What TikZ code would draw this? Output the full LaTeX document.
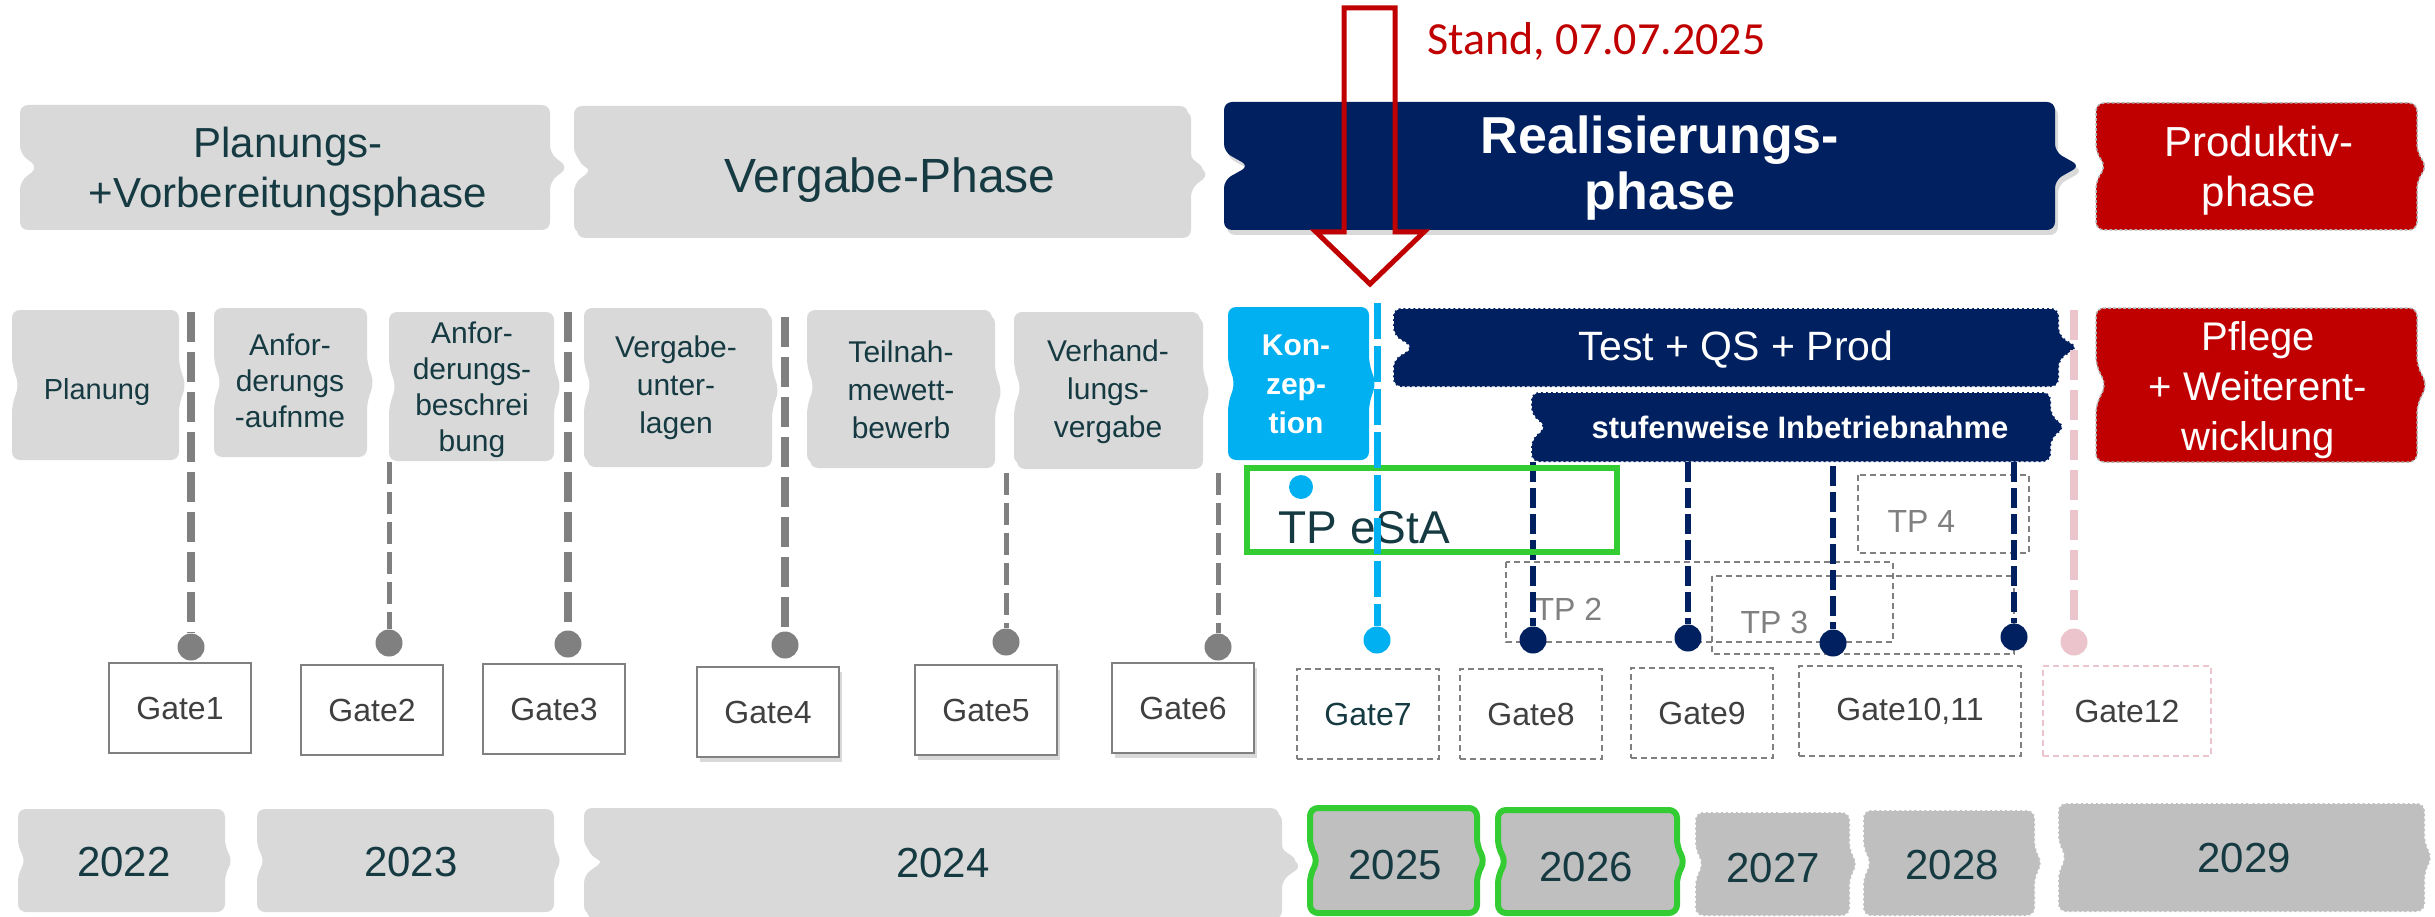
\documentclass[tikz,border=0pt]{standalone}
\usepackage{fontspec}
\setmainfont{Liberation Sans}
\newfontfamily\standfont{Carlito}
\usetikzlibrary{shadows}

\definecolor{navy}{RGB}{0,32,96}
\definecolor{skyblue}{RGB}{0,176,240}
\definecolor{darkred}{RGB}{192,0,0}
\definecolor{lgray}{RGB}{217,217,217}
\definecolor{mgray}{RGB}{191,191,191}
\definecolor{linegray}{RGB}{128,128,128}
\definecolor{tealtext}{RGB}{22,58,66}
\definecolor{gatetext}{RGB}{64,64,64}
\definecolor{lgreen}{RGB}{51,204,51}
\definecolor{rose}{RGB}{236,196,204}

% box with a notch on the left and a point on the right
% [options]{x1}{y1}{x2}{y2}{depth}{half height}
\newcommand{\stage}[7][]{%
  \path[#1] ({(#2+#4)/2},#3) -- (#4,#3) -- (#4,{(#3+#5)/2-#7}) -- ({#4+#6},{(#3+#5)/2})
    -- (#4,{(#3+#5)/2+#7}) -- (#4,#5) -- (#2,#5) -- (#2,{(#3+#5)/2+#7})
    -- ({#2+#6},{(#3+#5)/2}) -- (#2,{(#3+#5)/2-#7}) -- (#2,#3) -- cycle;}

\tikzset{
  stagebox/.style={rounded corners=8pt},
  shade/.style={drop shadow={shadow xshift=3pt,shadow yshift=-5pt,opacity=.3}},
  phasetxt/.style={align=center, text=tealtext, font=\fontsize{42}{50}\selectfont},
  steptxt/.style={align=center, text=tealtext, font=\fontsize{30}{36}\selectfont},
  yeartxt/.style={text=tealtext, font=\fontsize{42}{50}\selectfont},
  gatebox/.style={draw=linegray, line width=2pt, fill=white, minimum width=142pt,
    minimum height=90pt, inner sep=0pt, text=gatetext, font=\fontsize{32}{38}\selectfont},
  openbox/.style={gatebox, dash pattern=on 6pt off 4pt},
  gatedot/.style={circle, inner sep=0pt, minimum size=27pt},
  thickline/.style={draw=linegray, line width=8pt, dash pattern=on 30pt off 10pt},
  thinline/.style={draw=linegray, line width=5pt, dash pattern=on 22pt off 8pt},
  navyline/.style={draw=navy, line width=6pt, dash pattern=on 20pt off 6pt},
  tpbox/.style={draw=linegray, line width=2.5pt, dash pattern=on 6pt off 4pt},
  tptxt/.style={anchor=base west, text=linegray, font=\fontsize{32}{38}\selectfont}
}

\begin{document}
\begin{tikzpicture}[x=1pt,y=-1pt]
\useasboundingbox (0,0) rectangle (2435,917);

% Phasen
\stage[stagebox,fill=lgray]{20}{105}{550}{230}{18}{14}
\node[phasetxt] (plan) at (288,172) {Planungs-\\+Vorbereitungsphase};
\stage[stagebox,fill=lgray,shade]{574}{106}{1188}{233}{18}{14}
\node[phasetxt,font=\fontsize{48}{56}\selectfont] (vergabe) at (890,180) {Vergabe-Phase};
\stage[stagebox,fill=navy,shade]{1224}{102}{2055}{230}{25}{14}
\node[phasetxt,text=white,font=\fontsize{52}{56}\selectfont\bfseries] (real) at (1660,168) {Realisierungs-\\phase};
\stage[stagebox,fill=darkred,draw=gray!60,line width=1.5pt,dash pattern=on 3pt off 2pt]{2096}{103}{2417}{230}{10}{14}
\node[phasetxt,text=white] (prod) at (2259,171) {Produktiv-\\phase};

% Stand
\draw[darkred,line width=5pt] (1344,8) -- (1395,8) -- (1395,232) -- (1424,232) -- (1370,284)
  -- (1316,232) -- (1344,232) -- cycle;
\node[anchor=base west,text=darkred,font=\standfont\fontsize{46}{50}\selectfont] (stand) at (1424,55) {Stand, 07.07.2025};

% Schritte
\stage[stagebox,fill=lgray]{12}{310}{179}{460}{7}{20}
\node[steptxt,font=\fontsize{29}{36}\selectfont] (planung) at (97,392) {Planung};
\stage[stagebox,fill=lgray]{214}{308}{367}{457}{7}{20}
\node[steptxt] (anfauf) at (290,381) {Anfor-\\derungs\\-aufnme};
\stage[stagebox,fill=lgray]{389}{312}{554}{461}{7}{20}
\node[steptxt] (anfbes) at (472,390) {Anfor-\\derungs-\\beschrei\\bung};
\stage[stagebox,fill=lgray,shade]{584}{308}{769}{462}{7}{20}
\node[steptxt,font=\fontsize{30}{38}\selectfont] (vgunt) at (676,388) {Vergabe-\\unter-\\lagen};
\stage[stagebox,fill=lgray,shade]{807}{310}{992}{463}{7}{20}
\node[steptxt,font=\fontsize{30}{38}\selectfont] (teiln) at (901,390) {Teilnah-\\mewett-\\bewerb};
\stage[stagebox,fill=lgray,shade]{1014}{312}{1200}{464}{7}{20}
\node[steptxt,font=\fontsize{30}{38}\selectfont] (verh) at (1108,392) {Verhand-\\lungs-\\vergabe};
\stage[stagebox,fill=skyblue]{1228}{307}{1369}{460}{7}{20}
\node[steptxt,text=white,font=\fontsize{30}{39}\selectfont\bfseries] (konz) at (1296,384) {Kon-\\zep-\\tion};
\stage[stagebox,fill=navy,draw=white,line width=1.5pt,dash pattern=on 3pt off 2pt]{1393}{308}{2059}{387}{20}{12}
\node[text=white,font=\fontsize{41}{48}\selectfont] (test) at (1736,350) {Test + QS + Prod};
\stage[stagebox,fill=navy,draw=white,line width=1.5pt,dash pattern=on 3pt off 2pt]{1531}{392}{2051}{462}{15}{12}
\node[text=white,font=\fontsize{31}{36}\selectfont\bfseries] (stufe) at (1800,427) {stufenweise Inbetriebnahme};
\stage[stagebox,fill=darkred,draw=gray!60,line width=1.5pt,dash pattern=on 3pt off 2pt]{2096}{308}{2417}{462}{10}{20}
\node[phasetxt,text=white,font=\fontsize{40}{50}\selectfont] (pflege) at (2258,390) {Pflege\\+ Weiterent-\\wicklung};

% Gates
\node[gatebox] (gate1) at (180,708) {Gate1};
\node[gatebox] (gate2) at (372,710) {Gate2};
\node[gatebox] (gate3) at (554,709) {Gate3};
\node[gatebox,shade] (gate4) at (768,712) {Gate4};
\node[gatebox,shade] (gate5) at (986,710) {Gate5};
\node[gatebox,shade] (gate6) at (1183,708) {Gate6};
\node[openbox,text=tealtext] (gate7) at (1368,714) {Gate7};
\node[openbox] (gate8) at (1531,714) {Gate8};
\node[openbox] (gate9) at (1702,713) {Gate9};
\node[openbox,minimum width=222pt] (gate10) at (1910,711) {Gate10,11};
\node[openbox,draw=rose,minimum width=168pt] (gate12) at (2127,711) {Gate12};

% Teilprojekte
\draw[tpbox] (1858,475) rectangle (2029,553);
\node[tptxt] (tp4) at (1884,532) {TP 4};
\draw[tpbox] (1506,562) rectangle (1893,642);
\node[tptxt] (tp2) at (1531,620) {TP 2};
\draw[tpbox] (1712,576) rectangle (2014,654);
\node[tptxt] (tp3) at (1737,633) {TP 3};

% Meilensteine
\node[gatedot,fill=linegray] (d1) at (191,647) {};
\node[gatedot,fill=linegray] (d2) at (389,643) {};
\node[gatedot,fill=linegray] (d3) at (568,644) {};
\node[gatedot,fill=linegray] (d4) at (785,645) {};
\node[gatedot,fill=linegray] (d5) at (1006,642) {};
\node[gatedot,fill=linegray] (d6) at (1218,647) {};
\node[gatedot,fill=skyblue] (d7) at (1377,640) {};
\node[gatedot,fill=navy] (d8) at (1533,640) {};
\node[gatedot,fill=navy] (d9) at (1688,638) {};
\node[gatedot,fill=navy] (d10) at (1833,643) {};
\node[gatedot,fill=navy] (d11) at (2014,637) {};
\node[gatedot,fill=rose] (d12) at (2074,642) {};

\coordinate (t1) at (191,312);
\coordinate (t2) at (389,462);
\coordinate (t3) at (568,312);
\coordinate (t4) at (785,317);
\coordinate (t5) at (1006,473);
\coordinate (t6) at (1218,473);
\coordinate (t7) at (1377,303);
\coordinate (t8) at (1533,462);
\coordinate (t9) at (1688,462);
\coordinate (t10) at (1833,466);
\coordinate (t11) at (2014,462);
\coordinate (t12) at (2074,310);

\draw[thickline] (t1) -- (d1);
\draw[thinline] (t2) -- (d2);
\draw[thickline] (t3) -- (d3);
\draw[thickline] (t4) -- (d4);
\draw[thinline] (t5) -- (d5);
\draw[thinline] (t6) -- (d6);
\draw[navyline] (t8) -- (d8);
\draw[navyline] (t9) -- (d9);
\draw[navyline] (t10) -- (d10);
\draw[navyline] (t11) -- (d11);
\draw[draw=rose,line width=8pt,dash pattern=on 30pt off 10pt] (t12) -- (d12);

% TP eStA
\draw[lgreen,line width=6pt] (1247,468) rectangle (1617,552);
\node[anchor=base west,text=tealtext,font=\fontsize{46}{52}\selectfont] (tpesta) at (1275,543) {TP eStA};
\node[gatedot,fill=skyblue,minimum size=24pt] (dk) at (1301,487) {};
\draw[draw=skyblue,line width=7pt,dash pattern=on 36pt off 7pt] (t7) -- (d7);

% Jahre
\stage[stagebox,fill=lgray]{18}{809}{225}{912}{8}{13}
\node[yeartxt] (y2022) at (124,862) {2022};
\stage[stagebox,fill=lgray]{257}{809}{554}{912}{8}{13}
\node[yeartxt] (y2023) at (411,862) {2023};
\stage[stagebox,fill=lgray,shade]{584}{808}{1279}{914}{20}{14}
\node[yeartxt] (y2024) at (943,863) {2024};
\stage[stagebox,fill=mgray,draw=lgreen,line width=6pt]{1310}{808}{1477}{913}{8}{14}
\node[yeartxt] (y2025) at (1395,865) {2025};
\stage[stagebox,fill=mgray,draw=lgreen,line width=6pt]{1498}{810}{1677}{913}{8}{14}
\node[yeartxt] (y2026) at (1586,867) {2026};
\stage[stagebox,fill=mgray,draw=white,line width=1.5pt,dash pattern=on 3pt off 2pt]{1695}{812}{1850}{916}{8}{14}
\node[yeartxt] (y2027) at (1773,868) {2027};
\stage[stagebox,fill=mgray,draw=white,line width=1.5pt,dash pattern=on 3pt off 2pt]{1863}{810}{2035}{916}{8}{14}
\node[yeartxt] (y2028) at (1952,865) {2028};
\stage[stagebox,fill=mgray,draw=white,line width=1.5pt,dash pattern=on 3pt off 2pt]{2058}{803}{2425}{912}{8}{14}
\node[yeartxt] (y2029) at (2244,858) {2029};
\end{tikzpicture}
\end{document}
